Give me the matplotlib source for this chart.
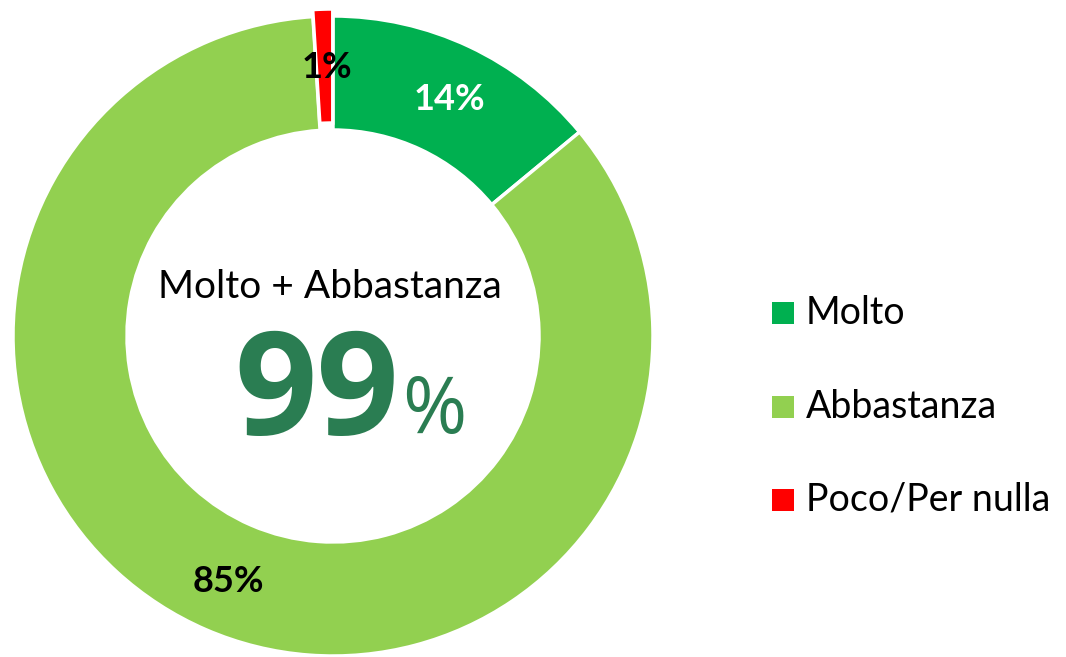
import matplotlib
matplotlib.use("Agg")
import matplotlib.pyplot as plt

categories = ["Molto", "Abbastanza", "Poco/Per nulla"]
values = [14, 85, 1]
value_labels = ["14%", "85%", "1%"]
colors = ["#00B050", "#92D050", "#FF0000"]
center_title = "Molto + Abbastanza"
center_value = "99"

plt.rcParams['font.family'] = ['Lato', 'DejaVu Sans']

W, H = 1066, 657
fig = plt.figure(figsize=(W / 100, H / 100), dpi=100)
ax = fig.add_axes([0, 0, 1, 1])
ax.set_xlim(0, W)
ax.set_ylim(0, H)
ax.axis('off')

cx, cy = 333, H - 336
R = 320
wedges, _ = ax.pie(values, colors=colors, startangle=90, counterclock=False,
                   center=(cx, cy), radius=R, explode=[0, 0, 7],
                   wedgeprops=dict(width=114, edgecolor='white', linewidth=2.5),
                   frame=False)
ax.set_xlim(0, W)
ax.set_ylim(0, H)
ax.set_aspect('auto')

# slice labels
label_pos = [(449, 100), (228, 582), (327, 68)]
label_col = ['white', 'black', 'black']
for (x, y), t, c in zip(label_pos, value_labels, label_col):
    ax.text(x, H - y, t, ha='center', va='center', fontsize=26, fontweight='bold', color=c)

# center text
ax.text(330, H - 287, center_title, ha='center', va='center', fontsize=28, color='black')
ax.text(317, H - 398, center_value, ha='center', va='center', fontsize=104,
        fontweight='bold', color='#2A7D52', family=['Open Sans', 'DejaVu Sans'])
ax.text(434, H - 412, '%', ha='center', va='center', fontsize=56, color='#2A7D52',
        family=['Open Sans', 'DejaVu Sans'])

# legend
leg_y = [313, 407, 500]
for lab, col, y in zip(categories, colors, leg_y):
    ax.scatter([783], [H - y], marker='s', s=250, color=col, linewidths=0)
    ax.text(806, H - y, lab, ha='left', va='center', fontsize=27, color='black')

fig.savefig("out.png", dpi=100)
